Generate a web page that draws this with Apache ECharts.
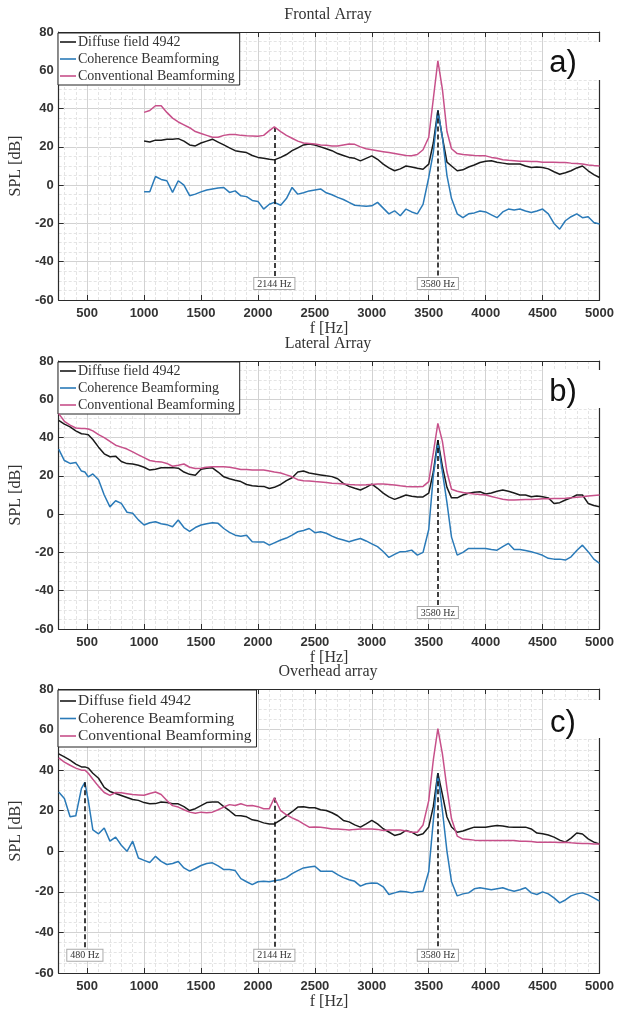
<!DOCTYPE html>
<html><head><meta charset="utf-8">
<script src="https://cdn.jsdelivr.net/npm/echarts@6/dist/echarts.min.js"></script>
<style>html,body{margin:0;padding:0;background:#fff}#c{width:617px;height:1012px}</style>
</head><body><div id="c"></div>
<script>
// ---------------- DATA ----------------
const freqs = [
  250,300,350,400,450,480,510,550,600,650,
  700,750,800,850,900,950,
  1000,1050,1100,1150,1200,1250,1300,1350,1400,1450,
  1500,1550,1600,1650,1700,1750,1800,1850,1900,1950,
  2000,2050,2100,2144,2200,2250,2300,2350,2400,2450,
  2500,2550,2600,2650,2700,2750,2800,2850,2900,2950,
  3000,3050,3100,3150,3200,3250,3300,3350,3400,3450,
  3500,3540,3580,3620,3660,3700,
  3750,3800,3850,3900,3950,4000,4050,4100,4150,4200,
  4250,4300,4350,4400,4450,4500,4550,4600,4650,4700,
  4750,4800,4850,4900,4950,5000
];
const xTickValues = [500,1000,1500,2000,2500,3000,3500,4000,4500,5000];
const seriesNames = ['Diffuse field 4942','Coherence Beamforming','Conventional Beamforming'];
const panelTitles = ['Frontal Array','Lateral Array','Overhead array'];
const panelTags = ['a)','b)','c)'];

// a) Frontal array (data start at 1000 Hz)
const frontalDiffuse = [
  null,null,null,null,null,null,null,null,null,null,
  null,null,null,null,null,null,
  23,22.5,23.5,23.5,24,24,24.3,23,21,20.5,
  22,23,24,22.5,21,19.5,18,17.5,17,15.5,
  14.5,14,13.5,13.2,14.5,16,18,19.5,21,21.5,
  21,20,19,18,16.5,15.5,14.5,14,12.7,14,
  15.3,13.5,11,9,7.5,8.5,10,9.5,8.8,8.3,
  11,22,39,25,12,10,
  7.5,8,9.5,10.5,11.8,12.5,12.7,12,11.5,11,
  11,11,10,9.2,9.5,9.2,8.5,7,5.7,6.5,
  7.5,9,10,7.5,5.5,4
];
const frontalCoherence = [
  null,null,null,null,null,null,null,null,null,null,
  null,null,null,null,null,null,
  -3.5,-3.5,4.5,3,2.3,-3.8,2.3,0,-5.5,-4.7,
  -3.5,-2.5,-2,-1.5,-1.2,-3.8,-3,-5.6,-6,-8,
  -8.5,-12.5,-10,-9,-10.5,-7,-1.2,-4.7,-4,-3,
  -2.5,-2,-4,-5,-6.4,-7.5,-9,-10.5,-10.8,-11,
  -10.8,-9,-12,-15,-13.4,-16,-12.5,-14,-15,-10,
  4,17,39,25,5,-7,
  -15,-17,-15,-14.5,-13.5,-14,-15.5,-17,-14,-12.5,
  -13,-12.5,-13.5,-14.3,-13.5,-12.5,-15,-20,-23,-18.6,
  -16.5,-15,-17,-16.5,-19.5,-20.3
];
const frontalConventional = [
  null,null,null,null,null,null,null,null,null,null,
  null,null,null,null,null,null,
  38,39,41.5,41.5,38,35,33,31.5,30,28,
  27,26,25,25,26,26.5,26.5,26,25.8,25.7,
  25.5,26,28.5,30.4,28,26,24.5,23,22,21.8,
  21.5,21,20.8,20.5,20.5,21,21.5,21.3,20,19,
  18.5,18,17.5,17,16.5,16,15.5,15.3,16,18.5,
  25,45,65,50,28,19,
  16.5,16,15.8,15.5,15.3,15.3,14.5,14,13.3,13,
  12.8,12.5,12.5,12.3,12.3,12,12,12,11.8,11.8,
  11.5,11.3,11,10.5,10.2,10
];

// b) Lateral array
const lateralDiffuse = [
  49,47,45.6,43.5,42,41.8,41.5,39,35,31.5,
  30,30.3,27.5,26.4,26.2,25.5,
  24.5,23,23.5,24.2,24.2,24.3,24,22,20.8,20.3,
  23.5,24,24.2,22,19.5,18.5,17.7,17,15.5,14.8,
  14.6,14.5,13.4,14,15.5,17.5,19,22,22.5,21.5,
  21,20.5,20,19.6,18.5,16.1,14.5,13.5,12.6,14,
  15.7,13.5,11,9,7.7,8.8,10,9.3,9,9,
  11,22,38.7,25,14,8.5,
  8.5,10,10.9,11.5,11.7,10.5,11,12,12.6,12,
  11,10,10,9.1,9.5,9.1,8.5,5.6,6,7.4,
  8.5,10,10,5.6,4.5,3.9
];
const lateralCoherence = [
  34,28,26.5,27,22.5,22,19.5,21,18,10,
  3.8,7,5.6,1,0.5,-3,
  -5.7,-4.5,-4,-5,-5.5,-6.6,-3.1,-7,-9,-7,
  -5.7,-5,-4.5,-4.8,-7.5,-9.5,-11,-11.5,-11,-14.4,
  -14.6,-14.5,-16.2,-15,-13.5,-12.5,-11,-9.2,-8.5,-7.5,
  -9.7,-9.2,-10,-11.5,-12.7,-13.5,-14.4,-13.5,-12.7,-14,
  -15.5,-17,-19.5,-22.6,-21,-19.6,-19.5,-18.8,-21.4,-20,
  -8,20,37,22,6,-12,
  -21.4,-20,-17.9,-18,-17.9,-18,-18.5,-18.8,-17,-15.3,
  -18.5,-18.5,-19,-19.6,-20.5,-21.5,-23.1,-23.5,-23.5,-24,
  -22.3,-19,-16.2,-19.6,-23.5,-25.7
];
const lateralConventional = [
  52.5,48.5,46.5,45,44.7,44.7,44.5,43.5,41.5,40,
  38,36,35,34,32.5,31,
  29.5,28,27.5,27.3,26.5,25,25.5,26.2,24.5,23.8,
  24,24.5,24.7,24.7,24.7,24.5,24,23.3,23.3,23,
  23,23,22.5,22,21.5,20.5,19.5,18,17.5,17.3,
  17,16.8,16.5,16.2,16,15.8,15.5,15.3,15.2,15.3,
  15.5,15.7,15.7,15.5,15.2,14.8,14.5,14.3,14.3,14.5,
  17,32,47.4,38,22,13,
  12,11.3,10.9,10.5,10.2,10,9.2,8.5,7.8,7.4,
  7.4,7.5,7.6,7.6,7.8,8,8,8.2,8.2,8.3,
  8.5,8.8,9.1,9.5,9.8,10
];

// c) Overhead array
const overheadDiffuse = [
  48,46.5,44.9,43,41.6,41.6,41,38.5,36,31.5,
  29.5,28.5,27.5,26.5,25.5,25.1,
  24,23.4,23.5,24.3,24,23.4,23.4,22,20.1,21,
  22.5,24,24.3,24.3,22,20,17.7,17.5,17,15.5,
  15,14,13.5,13.5,15.5,17.5,19.5,21.8,22,21.5,
  21.5,20.5,20.1,19,17.5,15.2,14.5,13,11.9,13.5,
  15.2,13.5,11.1,9.5,7.8,8.5,10.3,9.4,7.8,8.6,
  12,22,38.5,28,16.9,12,
  9.4,10,11,11.9,11.8,11.9,12.3,12.7,12.5,12,
  11.9,11.9,11.9,11,9,8.6,8,7,5.5,4.5,
  6.5,9,8.5,6.1,4.5,3.6
];
const overheadCoherence = [
  29.2,26,17,17.5,31,34,25,10.5,8.6,11.5,
  5,7,3,0,5,-3.3,
  -4.5,-5.5,-2.5,-5,-6.5,-6,-5,-8.2,-9.8,-8.5,
  -7,-6,-5.7,-7.2,-9,-9,-9.5,-13.5,-15,-16.4,
  -15,-14.8,-15,-14.5,-14,-13,-11,-9.5,-8.2,-7.8,
  -7.4,-9.8,-9.8,-9.8,-11.5,-13,-14,-14.8,-17.2,-16,
  -15.6,-15.8,-17.5,-21.3,-20.5,-19.7,-20,-20.5,-20,-19.7,
  -10,15,38.3,20,0,-15,
  -22,-21,-20.5,-18.5,-18,-18.5,-19,-18.5,-18,-19,
  -19.7,-19,-18,-20.5,-21.3,-20,-21,-23,-25.4,-24,
  -22,-21,-20.5,-21.5,-23,-24.6
];
const overheadConventional = [
  46,44,42.4,41,40,40,38.5,35.5,32,29,
  27.6,29,28.8,28.4,28,27.8,
  27.6,28.5,29.2,28,25,22.5,21.8,20.5,19.3,18.8,
  19.3,19,19.3,20.5,21.8,23,22.6,23.4,22.5,22.6,
  22,21,21,26.4,20,18,16.5,15.2,13.5,11.9,
  12,11.9,11.5,11,11,10.8,10.5,10.8,11,11,
  11,10.8,10.2,10.5,10.5,10.5,10,9.4,9.4,13,
  25,45,60.5,48,31,16,
  7.5,6,5.8,5.5,5.3,5.3,5.3,5.3,5.3,5.3,
  5.3,5,5,4.8,4.5,4.5,4.5,4.5,4.3,4.5,
  4.2,4,3.8,3.8,3.6,3.6
];

// marked frequencies and the level each dashed marker starts at
const frontalMarkFreqs = [2144, 3580];
const frontalMarkTops = [30.4, 39];
const lateralMarkFreqs = [3580];
const lateralMarkTops = [38.7];
const overheadMarkFreqs = [480, 2144, 3580];
const overheadMarkTops = [34, 26.4, 38.5];
const markLabelLevel = -48;

// ---------------- CHART ----------------
const colors = ['#1a1a1a', '#2a7ab8', '#c7508a'];
const serif = 'Liberation Serif';
const sans = 'Liberation Sans';
const layout = [
  {top: 32, height: 268, legendFont: 14, legendGap: 3, legendPad: [2,5,2,2], tagDy: 31, boxTop: 10},
  {top: 361, height: 268, legendFont: 14, legendGap: 3, legendPad: [2,5,2,2], tagDy: 31, boxTop: 9},
  {top: 689, height: 284, legendFont: 15.5, legendGap: 1.5, legendPad: [3,5,3,2], tagDy: 34, boxTop: 11}
];
const gridLeft = 55, gridRight = 16, gridWidth = 617 - 55 - 16;

const panels = [
  {data: [frontalDiffuse, frontalCoherence, frontalConventional], marks: frontalMarkFreqs, tops: frontalMarkTops},
  {data: [lateralDiffuse, lateralCoherence, lateralConventional], marks: lateralMarkFreqs, tops: lateralMarkTops},
  {data: [overheadDiffuse, overheadCoherence, overheadConventional], marks: overheadMarkFreqs, tops: overheadMarkTops}
];

function pairs(arr) {
  const out = [];
  for (let i = 0; i < freqs.length; i++) if (arr[i] !== null) out.push([freqs[i], arr[i]]);
  return out;
}

const grid = [], xAxis = [], yAxis = [], series = [], legend = [], graphic = [];
const axisColor = '#2b2b2b';

layout.forEach((L, p) => {
  grid.push({left: gridLeft, right: gridRight, top: L.top, height: L.height});
  // bottom x
  xAxis.push({
    type: 'value', gridIndex: p, min: 250, max: 5000, splitNumber: 10, position: 'bottom',
    name: 'f [Hz]', nameLocation: 'middle', nameGap: 21,
    nameTextStyle: {fontFamily: serif, fontSize: 16, color: '#333'},
    axisLine: {show: true, onZero: false, lineStyle: {color: axisColor, width: 1.2}},
    axisTick: {show: true, inside: true, length: 5, customValues: xTickValues, lineStyle: {color: axisColor}},
    axisLabel: {customValues: xTickValues, formatter: v => String(v), fontFamily: sans, fontWeight: 'bold', fontSize: 13, color: '#333', margin: 7},
    splitLine: {show: true, lineStyle: {color: '#d2d2d2', width: 1}},
    minorTick: {show: false, splitNumber: 5},
    minorSplitLine: {show: true, lineStyle: {color: '#e4e4e4', type: [3, 2]}}
  });
  // top x (ticks only)
  xAxis.push({
    type: 'value', gridIndex: p, min: 250, max: 5000, splitNumber: 10, position: 'top',
    axisLine: {show: true, onZero: false, lineStyle: {color: axisColor, width: 1.2}},
    axisTick: {show: true, inside: true, length: 5, customValues: xTickValues, lineStyle: {color: axisColor}},
    axisLabel: {show: false}, splitLine: {show: false}
  });
  yAxis.push({
    type: 'value', gridIndex: p, min: -60, max: 80, interval: 20, position: 'left',
    name: 'SPL [dB]', nameLocation: 'middle', nameGap: 30, nameRotate: 90,
    nameTextStyle: {fontFamily: serif, fontSize: 16, color: '#333'},
    axisLine: {show: true, onZero: false, lineStyle: {color: axisColor, width: 1.2}},
    axisTick: {show: true, inside: true, length: 5, lineStyle: {color: axisColor}},
    axisLabel: {formatter: v => String(v), fontFamily: sans, fontWeight: 'bold', fontSize: 13, color: '#333', margin: 5},
    splitLine: {show: true, lineStyle: {color: '#d2d2d2', width: 1}},
    minorTick: {show: false, splitNumber: 4},
    minorSplitLine: {show: true, lineStyle: {color: '#e4e4e4', type: [3, 2]}}
  });
  yAxis.push({
    type: 'value', gridIndex: p, min: -60, max: 80, interval: 20, position: 'right',
    axisLine: {show: true, onZero: false, lineStyle: {color: axisColor, width: 1.2}},
    axisTick: {show: true, inside: true, length: 5, lineStyle: {color: axisColor}},
    axisLabel: {show: false}, splitLine: {show: false}
  });

  const P = panels[p];
  const markData = P.marks.map((f, k) => [
    {name: f + ' Hz', coord: [f, P.tops[k]]},
    {coord: [f, markLabelLevel]}
  ]);
  P.data.forEach((arr, s) => {
    const ser = {
      type: 'line', name: seriesNames[s], xAxisIndex: 2 * p, yAxisIndex: 2 * p,
      data: pairs(arr), showSymbol: false, symbol: 'none',
      lineStyle: {color: colors[s], width: 1.5}, itemStyle: {color: colors[s]},
      z: 3 + s, animation: false, silent: true
    };
    if (s === 0) {
      ser.markLine = {
        silent: true, symbol: ['none', 'none'], animation: false,
        lineStyle: {color: '#111', type: [5, 3], width: 1.6},
        label: {
          show: true, position: 'end', distance: 1, formatter: '{b}',
          fontFamily: serif, fontSize: 10, color: '#333',
          backgroundColor: '#fff', borderColor: '#aaa', borderWidth: 1, padding: [1, 3, 0, 3]
        },
        emphasis: {disabled: true},
        data: markData
      };
    }
    series.push(ser);
  });

  legend.push({
    show: true, orient: 'vertical', left: 58, top: L.top + 1, selectedMode: false,
    data: seriesNames, icon: 'rect', itemWidth: 16, itemHeight: 1.6, itemGap: L.legendGap,
    padding: L.legendPad, backgroundColor: '#fff', borderColor: '#222', borderWidth: 1,
    textStyle: {fontFamily: serif, fontSize: L.legendFont, color: '#333', lineHeight: L.legendFont, padding: [0, 0, 0, -3]}
  });

  // panel title
  graphic.push({type: 'text', x: gridLeft + gridWidth / 2, y: L.top - 17, z: 100,
    style: {text: panelTitles[p], font: '16px "' + serif + '"', fill: '#333', textAlign: 'center', textVerticalAlign: 'middle'}});
  // tag box
  graphic.push({type: 'rect', shape: {x: gridLeft + gridWidth - 58, y: L.top + L.boxTop, width: 61, height: 38}, z: 100,
    style: {fill: '#fff'}});
  graphic.push({type: 'text', x: gridLeft + gridWidth - 38, y: L.top + L.tagDy, z: 101,
    style: {text: panelTags[p], font: '31px "' + sans + '"', fill: '#111', textAlign: 'center', textVerticalAlign: 'middle'}});
});

const chart = echarts.init(document.getElementById('c'), null, {renderer: 'canvas'});
chart.setOption({
  animation: false, backgroundColor: '#fff',
  grid, xAxis, yAxis, series, legend, graphic
});
</script></body></html>
